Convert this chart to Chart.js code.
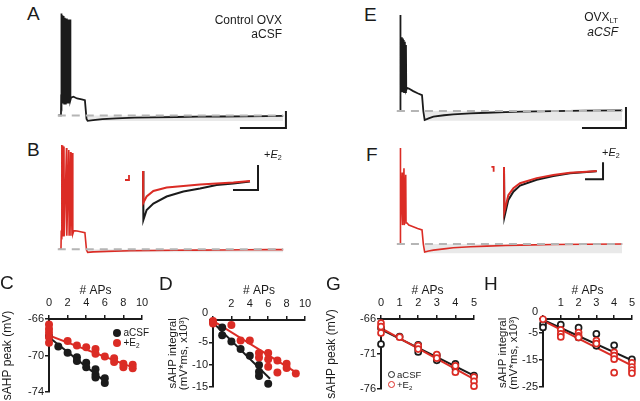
<!DOCTYPE html>
<html>
<head>
<meta charset="utf-8">
<script src="https://cdn.jsdelivr.net/npm/chart.js@4/dist/chart.umd.min.js"></script>
<style>
  html, body { margin: 0; background: #fff; }
  #fig { position: relative; width: 640px; height: 401px; overflow: hidden; background: #fff;
         font-family: 'Liberation Sans', Arial, Helvetica, sans-serif; color: #1b1b1b; }
  #fig canvas, #fig div { position: absolute; }
  .lab { font-size: 19px; line-height: 19px; }
  .txt { font-size: 12px; line-height: 14px; text-align: right; white-space: nowrap; }
  .e2 { font-size: 11px; line-height: 12px; white-space: nowrap; }
  .leg { font-size: 10px; line-height: 13px; white-space: nowrap; }
  .dot { display: inline-block; width: 8px; height: 8px; border-radius: 50%; margin-right: 3px; vertical-align: -1px; }
  .odot { display: inline-block; width: 7px; height: 7px; border-radius: 50%; border: 1.7px solid; box-sizing: border-box;
          margin-right: 2.5px; vertical-align: 0; }
  sub { font-size: 65%; line-height: 0; vertical-align: -0.25em; }
</style>
</head>
<body>
<div id="fig">
  <canvas id="trA" width="240" height="130" style="left:55px;top:5px"></canvas>
  <canvas id="trB" width="240" height="120" style="left:55px;top:140px"></canvas>
  <canvas id="inB" width="150" height="70" style="left:118px;top:160px"></canvas>
  <canvas id="trE" width="240" height="130" style="left:395px;top:5px"></canvas>
  <canvas id="trF" width="240" height="120" style="left:395px;top:140px"></canvas>
  <canvas id="inF" width="130" height="70" style="left:485px;top:155px"></canvas>
  <canvas id="scC" width="160" height="121" style="left:0px;top:280px"></canvas>
  <canvas id="scD" width="160" height="121" style="left:163px;top:280px"></canvas>
  <canvas id="scG" width="170" height="121" style="left:322px;top:280px"></canvas>
  <canvas id="scH" width="150" height="121" style="left:490px;top:280px"></canvas>

  <div class="lab" style="left:27px;top:4px">A</div>
  <div class="lab" style="left:27px;top:140px">B</div>
  <div class="lab" style="left:364px;top:5px">E</div>
  <div class="lab" style="left:366px;top:145px">F</div>
  <div class="lab" style="left:0px;top:273px">C</div>
  <div class="lab" style="left:159px;top:274px">D</div>
  <div class="lab" style="left:326px;top:274px">G</div>
  <div class="lab" style="left:484px;top:274px">H</div>

  <div class="txt" style="right:358px;top:13px">Control OVX<br>aCSF</div>
  <div class="txt" style="right:22px;top:10px;line-height:15px">OVX<sub>LT</sub><br><i>aCSF</i></div>
  <div class="e2" style="left:264px;top:148px">+<i>E</i><sub>2</sub></div>
  <div class="e2" style="left:602px;top:146px">+<i>E</i><sub>2</sub></div>

  <div class="leg" style="left:112.5px;top:326px"><span class="dot" style="background:#1b1b1b"></span>aCSF</div>
  <div class="leg" style="left:112.5px;top:335.5px"><span class="dot" style="background:#db2c25"></span>+E<sub>2</sub></div>
  <div class="leg" style="left:387.5px;top:370px;font-size:9.5px;line-height:10px"><span class="odot" style="border-color:#1b1b1b"></span>aCSF</div>
  <div class="leg" style="left:387.5px;top:380px;font-size:9.5px;line-height:10px"><span class="odot" style="border-color:#db2c25"></span>+E<sub>2</sub></div>
</div>

<script>
const INK = '#1b1b1b';
const RED = '#db2c25';
const GREY = '#b5b5b5';
const BAND = '#e9e9e9';

// --- voltage traces: [time (s), membrane potential (mV)] ---
const traceA = [[-0.06,-60],[0,-60],[0.003,-52],[0.008,0],[0.014,-53],[0.026,-1],[0.032,-53],[0.045,-1.5],[0.051,-53],
  [0.064,-2],[0.07,-53],[0.083,-2.5],[0.089,-53],[0.102,-3],[0.108,-53],[0.121,-3],[0.127,-53],[0.14,-3.5],[0.146,-53],
  [0.159,-3.5],[0.165,-53],[0.178,-4],[0.184,-53],[0.197,-3.5],[0.205,-51],[0.22,-49.5],[0.27,-49],[0.35,-50],[0.45,-50.5],
  [0.52,-51],[0.555,-62],[0.58,-63.2],[0.7,-62.8],[0.9,-62.2],[1.2,-61.7],[1.6,-61.3],[2.0,-61.1],[2.5,-60.9],[3.0,-60.7],
  [3.5,-60.6],[4.0,-60.5],[4.5,-60.4],[4.83,-60.3]];
const traceB = [[-0.05,-60],[0,-60],[0.005,-51],[0.015,1.4],[0.022,-52],[0.04,1],[0.047,-52],[0.065,0.5],[0.072,-52],
  [0.12,-0.4],[0.127,-52],[0.17,-1.6],[0.177,-52],[0.21,-2.8],[0.217,-52],[0.25,-3.4],[0.257,-51],[0.28,-49],[0.35,-49.2],
  [0.45,-49.8],[0.52,-50.2],[0.555,-60.5],[0.58,-61.8],[0.7,-61.5],[1.0,-61.2],[1.5,-60.9],[2.0,-60.7],[2.5,-60.6],
  [3.0,-60.5],[3.5,-60.4],[4.0,-60.3],[4.5,-60.2],[4.83,-60.2]];
const traceE = [[-0.07,-60],[0,-60],[0.003,-50],[0.01,-14.3],[0.018,-51],[0.035,-24.8],[0.042,-51],[0.06,-25.5],[0.067,-51],
  [0.085,-26.2],[0.092,-51],[0.11,-27],[0.117,-51],[0.135,-28.6],[0.142,-50],[0.16,-49],[0.2,-49.3],[0.3,-50.5],[0.4,-51.5],
  [0.5,-52.4],[0.53,-60],[0.56,-64.3],[0.65,-63.5],[0.76,-62.7],[1.0,-62],[1.21,-61.6],[1.6,-61.1],[1.97,-60.8],[2.4,-60.5],
  [2.73,-60.3],[3.48,-60],[4.2,-59.8],[5.05,-59.7]];
const traceF = [[-0.07,-60],[0,-60],[0.003,-50],[0.01,-14.3],[0.018,-51],[0.05,-26],[0.057,-51],[0.09,-24],[0.097,-51],
  [0.13,-27],[0.137,-50],[0.16,-50],[0.2,-51],[0.3,-51.8],[0.4,-52.6],[0.5,-53.3],[0.53,-60],[0.56,-63.8],[0.65,-63.3],
  [0.76,-62.9],[1.0,-62.3],[1.21,-61.8],[1.6,-61.3],[1.97,-61],[2.4,-60.7],[2.73,-60.5],[3.48,-60.2],[4.2,-60.1],[5.05,-60]];

// resting baseline, sAHP area and scale bars (1 s, 10 mV)
const baseA = [[-0.07,-60],[4.83,-60]];
const bandA = [[0.56,-63.2],[4.83,-63.2]];
const barA = [[3.89,-67.4],[4.89,-67.4],[4.89,-57.4]];
const baseB = [[-0.07,-60],[4.83,-60]];
const bandB = [[0.56,-61.8],[4.83,-61.8]];
const baseE = [[-0.07,-60],[5.05,-60]];
const bandE = [[0.56,-64.6],[5.05,-64.6]];
const barE = [[4.136,-68.1],[5.136,-68.1],[5.136,-58.1]];
const baseF = [[-0.07,-60],[5.05,-60]];
const bandF = [[0.56,-64.4],[5.05,-64.4]];

// insets: [time (ms), mV relative to end], aCSF black vs +E2 red, scale bar 200 ms / 5 mV
const insBAcsf = [[0,2],[3,-7.8],[29,-5.8],[83,-4.5],[189,-3.1],[323,-2.1],[456,-1.5],[589,-0.8],[723,-0.5],[856,-0.1]];
const insBE2 = [[0,2],[2,-4.4],[29,-3.1],[83,-2],[189,-1.3],[323,-1],[456,-0.7],[589,-0.5],[723,-0.3],[856,0]];
const insBMark = [[-144,0.2],[-112,0.2],[-112,1.2]];
const insBBar = [[720,-1.8],[920,-1.8],[920,3.2]];
const insFAcsf = [[0,1.2],[5,-13.5],[48,-8.5],[104,-6.1],[178,-4.3],[363,-2.6],[548,-1.5],[733,-0.7],[919,-0.3],[1030,-0.1]];
const insFE2 = [[0,1.2],[3,-12.1],[48,-7.1],[104,-5.1],[178,-3.6],[363,-2.1],[548,-1.2],[733,-0.5],[919,-0.2],[1030,0]];
const insFMark = [[-140,1.2],[-115,1.2],[-115,-0.2]];
const insFBar = [[900,-2.4],[1100,-2.4],[1100,2.6]];

// --- sAHP vs number of APs: [# APs, value] ---
const cAcsf = [[0,-67.9],[1,-69.0],[2,-69.7],[3,-70.2],[3,-70.6],[4,-70.8],[4,-71.3],[5,-71.5],[5,-72.1],[5,-72.4],[6,-72.5],[6,-73.0]];
const cE2 = [[0,-66.6],[0,-67.1],[0,-67.5],[0,-68.0],[0,-68.6],[2,-68.4],[3,-68.9],[4,-69.1],[5,-69.3],[5,-69.8],[6,-70.1],
  [7,-70.3],[7,-70.7],[8,-70.9],[8,-71.3],[9,-71.0],[9,-71.4]];
const cFitAcsf = [[0,-68.0],[6.2,-73.0]];
const cFitE2 = [[0,-67.8],[9,-71.3]];
const cTicksX = [0,2,4,6,8,10];
const cTicksY = [-66,-70,-74];

const dAcsf = [[0,-0.4],[1,-1.7],[1,-3.4],[2,-4.8],[3,-6.5],[4,-8.0],[5,-10.1],[5,-11.6],[5,-12.6],[6,-14.3]];
const dE2 = [[0,-0.2],[0,-0.8],[2,-1.1],[3,-4.6],[4,-4.6],[5,-7.4],[5,-8.4],[6,-7.4],[6,-8.8],[6,-10.5],[7,-9.1],[7,-11.8],
  [8,-9.8],[8,-10.8],[9,-12.0]];
const dFitAcsf = [[0,-0.6],[6.2,-13.2]];
const dFitE2 = [[0,-0.2],[9.2,-12.0]];
const dTicksX = [0,2,4,6,8,10];
const dTicksY = [0,-5,-10,-15];

const gAcsf = [[0,-67.3],[0,-69.6],[1,-68.5],[2,-69.7],[2,-70.2],[2,-70.7],[3,-71.2],[3,-71.9],[4,-72.4],[4,-73.0],[5,-74.1]];
const gE2 = [[0,-66.6],[0,-67.1],[0,-68.0],[1,-68.6],[2,-69.8],[2,-70.3],[3,-71.1],[3,-71.6],[4,-72.7],[4,-73.6],[5,-74.3],
  [5,-74.9],[5,-75.6]];
const gFitAcsf = [[0,-67.5],[5,-74.1]];
const gFitE2 = [[0,-67.3],[5,-74.6]];
const gTicksX = [0,1,2,3,4,5];
const gTicksY = [-66,-71,-76];

const hAcsf = [[0,-1.9],[0,-3.1],[1,-2.1],[2,-3.2],[2,-6.8],[3,-5.5],[3,-9.9],[4,-9.7],[5,-14.9]];
const hE2 = [[0,-0.1],[1,-4.0],[1,-5.5],[1,-6.6],[2,-5.0],[2,-6.2],[2,-6.8],[3,-8.0],[3,-9.1],[4,-12.3],[4,-13.5],[4,-14.8],
  [4,-19.8],[5,-16.2],[5,-17.7],[5,-18.8],[5,-20.0]];
const hFitAcsf = [[0,-0.3],[5,-15.2]];
const hFitE2 = [[0,-0.6],[5,-17.2]];
const hTicksX = [0,1,2,3,4,5];
const hTicksY = [0,-5,-15,-25];

Chart.defaults.font.family = "'Liberation Sans', Arial, Helvetica, sans-serif";
Chart.defaults.color = INK;

const xy = (a) => a.map((p) => ({ x: p[0], y: p[1] }));

function line(data, color, width, order, extra) {
  return Object.assign({
    type: 'line', data: xy(data), borderColor: color, borderWidth: width,
    pointRadius: 0, fill: false, tension: 0, order: order,
  }, extra || {});
}

function band(data, base) {
  return line(data, 'rgba(0,0,0,0)', 0, 5, { fill: { value: base }, backgroundColor: BAND });
}

function traceChart(id, xr, yr, datasets) {
  new Chart(document.getElementById(id), {
    type: 'line',
    data: { datasets },
    options: {
      responsive: false, animation: false, events: [],
      layout: { padding: 0 },
      plugins: { legend: { display: false }, tooltip: { enabled: false } },
      scales: {
        x: { type: 'linear', display: false, min: xr[0], max: xr[1] },
        y: { type: 'linear', display: false, min: yr[0], max: yr[1] },
      },
    },
  });
}

traceChart('trA', [-0.13, 5.087], [-71.5, 5], [
  band(bandA, -60), line(traceA, INK, 1.8, 3), line(baseA, GREY, 2, 2, { borderDash: [8, 6] }), line(barA, INK, 2, 1),
]);
traceChart('trB', [-0.13, 5.087], [-66.3, 4.3], [
  band(bandB, -60), line(traceB, RED, 1.6, 3), line(baseB, GREY, 2, 2, { borderDash: [8, 6] }),
]);
traceChart('inB', [-200, 1000], [-9.8, 4.2], [
  line(insBAcsf, INK, 2, 3), line(insBE2, RED, 2, 2), line(insBMark, RED, 1.8, 1), line(insBBar, INK, 2, 1),
]);
traceChart('trE', [-0.114, 5.341], [-71.4, -9.5], [
  band(bandE, -60), line(traceE, INK, 1.8, 3), line(baseE, GREY, 2, 2, { borderDash: [8, 6] }), line(barE, INK, 2, 1),
]);
traceChart('trF', [-0.114, 5.341], [-67.6, -10.5], [
  band(bandF, -60), line(traceF, RED, 1.6, 3), line(baseF, GREY, 2, 2, { borderDash: [8, 6] }),
]);
traceChart('inF', [-211, 1233], [-15.9, 4.7], [
  line(insFAcsf, INK, 2, 3), line(insFE2, RED, 2, 2), line(insFMark, RED, 1.8, 1), line(insFBar, INK, 2, 1),
]);

function dots(data, color, open, order) {
  return {
    data: xy(data), order: order, clip: false,
    backgroundColor: open ? '#fff' : color, borderColor: color,
    pointRadius: open ? 3 : 4, borderWidth: open ? 1.7 : 0,
  };
}

function scatterChart(id, o) {
  new Chart(document.getElementById(id), {
    type: 'scatter',
    data: { datasets: o.datasets },
    options: {
      responsive: false, animation: false, events: [],
      layout: { padding: { left: 0, top: 0, right: o.padRight, bottom: o.padBottom } },
      plugins: { legend: { display: false }, tooltip: { enabled: false } },
      scales: {
        x: {
          type: 'linear', position: 'top', min: o.xTicks[0], max: o.xTicks[o.xTicks.length - 1],
          afterBuildTicks: (s) => { s.ticks = o.xTicks.map((v) => ({ value: v })); },
          ticks: { font: { size: 11 }, color: INK, padding: 5, maxRotation: 0, autoSkip: false,
                   callback: (v) => (o.hideZero && v === 0 ? '' : v) },
          grid: { drawOnChartArea: false, tickLength: 4, color: INK, lineWidth: 1.5 },
          border: { display: true, color: INK, width: 2 },
          title: { display: true, text: '# APs', color: INK, font: { size: 12 }, padding: { top: 3.5, bottom: 0 } },
          afterFit: (s) => { s.height = o.xHeight; },
        },
        y: {
          type: 'linear', min: Math.min(...o.yTicks), max: Math.max(...o.yTicks),
          afterBuildTicks: (s) => { s.ticks = o.yTicks.map((v) => ({ value: v })); },
          ticks: { font: { size: 11 }, color: INK, padding: 1, autoSkip: false,
                   callback: (v) => (v === 0 ? ['0', ''] : v) },
          grid: { drawOnChartArea: false, tickLength: 4, color: INK, lineWidth: 1.5 },
          border: { display: true, color: INK, width: 2 },
          title: { display: true, text: o.yTitle, color: INK, font: o.titleFont, padding: { top: o.titlePad, bottom: 0 } },
          afterFit: (s) => { s.width = o.yWidth; },
        },
      },
    },
  });
}

const peakFont = { size: 12, lineHeight: 1.2 };
const integralFont = { size: 11.5, lineHeight: 1 };
const integralTitle = ['sAHP integral', '(mV*ms, x10\u00B3)'];

scatterChart('scC', {
  xTicks: cTicksX, yTicks: cTicksY, xHeight: 39, yWidth: 49, padRight: 18, padBottom: 9,
  yTitle: 'sAHP peak (mV)', titleFont: peakFont, titlePad: 0,
  datasets: [
    line(cFitAcsf, INK, 2, 4), line(cFitE2, RED, 2, 3), dots(cAcsf, INK, false, 2), dots(cE2, RED, false, 1),
  ],
});
scatterChart('scD', {
  xTicks: dTicksX, yTicks: dTicksY, xHeight: 40, yWidth: 50, padRight: 18, padBottom: 10, hideZero: true,
  yTitle: integralTitle, titleFont: integralFont, titlePad: 4,
  datasets: [
    line(dFitAcsf, INK, 2, 4), line(dFitE2, RED, 2, 3), dots(dAcsf, INK, false, 2), dots(dE2, RED, false, 1),
  ],
});
scatterChart('scG', {
  xTicks: gTicksX, yTicks: gTicksY, xHeight: 39, yWidth: 59, padRight: 18, padBottom: 12,
  yTitle: 'sAHP peak (mV)', titleFont: peakFont, titlePad: 2.5,
  datasets: [
    line(gFitAcsf, INK, 2, 4), line(gFitE2, RED, 2, 3), dots(gAcsf, INK, true, 2), dots(gE2, RED, true, 1),
  ],
});
scatterChart('scH', {
  xTicks: hTicksX, yTicks: hTicksY, xHeight: 39, yWidth: 53, padRight: 5, padBottom: 9, hideZero: true,
  yTitle: integralTitle, titleFont: integralFont, titlePad: 7,
  datasets: [
    line(hFitAcsf, INK, 2, 4), line(hFitE2, RED, 2, 3), dots(hAcsf, INK, true, 2), dots(hE2, RED, true, 1),
  ],
});
</script>
</body>
</html>
